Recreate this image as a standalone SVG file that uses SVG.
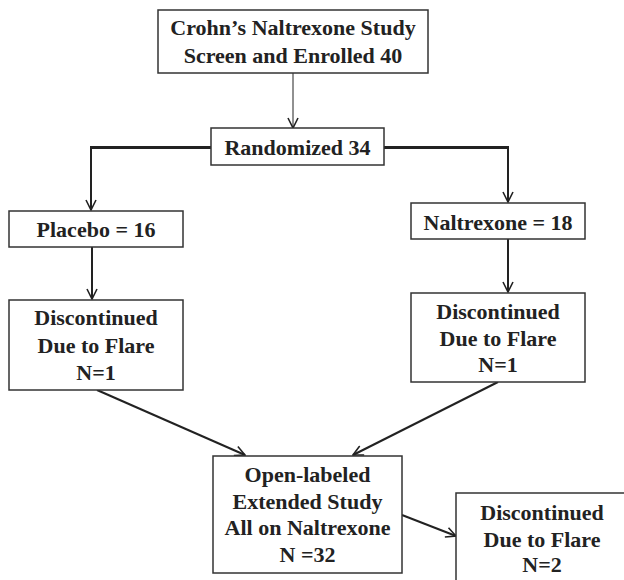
<svg xmlns="http://www.w3.org/2000/svg" width="624" height="580" viewBox="0 0 624 580">
<defs>
<style>
.box{fill:#fff;stroke:#333;stroke-width:1.5}
.t{font-family:"Liberation Serif","Times New Roman",serif;font-weight:bold;font-size:22px;fill:#222;text-anchor:middle}
.c{fill:none;stroke:#222}
</style>
<marker id="ah" viewBox="0 0 12 12" refX="11" refY="6" markerWidth="12" markerHeight="12" markerUnits="userSpaceOnUse" orient="auto">
<path d="M1,1 L11,6 L1,11" fill="none" stroke="#222" stroke-width="1.6"/>
</marker>
</defs>
<rect width="624" height="580" fill="#fff"/>
<g id="connectors">
<line class="c" x1="293" y1="73" x2="293" y2="128" stroke-width="1" marker-end="url(#ah)"/>
<polyline class="c" points="211,147.5 91,147.5" stroke-width="3"/>
<line class="c" x1="91" y1="146" x2="91" y2="210" stroke-width="2" marker-end="url(#ah)"/>
<polyline class="c" points="384,147.5 508,147.5" stroke-width="3"/>
<line class="c" x1="508" y1="146" x2="508" y2="202" stroke-width="2" marker-end="url(#ah)"/>
<line class="c" x1="92" y1="247" x2="92" y2="299" stroke-width="2" marker-end="url(#ah)"/>
<line class="c" x1="508" y1="239" x2="508" y2="292" stroke-width="2" marker-end="url(#ah)"/>
<line class="c" x1="97" y1="390" x2="245" y2="455" stroke-width="2" marker-end="url(#ah)"/>
<line class="c" x1="498" y1="382" x2="353" y2="455" stroke-width="2" marker-end="url(#ah)"/>
<line class="c" x1="402" y1="515" x2="456" y2="536" stroke-width="2" marker-end="url(#ah)"/>
</g>
<g id="n-screen">
<rect class="box" x="158" y="10" width="270" height="63"/>
<text class="t" x="293" y="35">Crohn’s Naltrexone Study</text>
<text class="t" x="293" y="63">Screen and Enrolled 40</text>
</g>
<g id="n-random">
<rect class="box" x="211" y="128" width="173" height="37"/>
<text class="t" x="297.5" y="155">Randomized 34</text>
</g>
<g id="n-placebo">
<rect class="box" x="9" y="211" width="174" height="36"/>
<text class="t" x="96" y="237">Placebo = 16</text>
</g>
<g id="n-naltrexone">
<rect class="box" x="411" y="203" width="174" height="36"/>
<text class="t" x="498" y="230">Naltrexone = 18</text>
</g>
<g id="n-disc-left">
<rect class="box" x="9" y="300" width="174" height="90"/>
<text class="t" x="96" y="325">Discontinued</text>
<text class="t" x="96" y="353">Due to Flare</text>
<text class="t" x="96" y="380">N=1</text>
</g>
<g id="n-disc-right">
<rect class="box" x="411" y="293" width="174" height="89"/>
<text class="t" x="498" y="319">Discontinued</text>
<text class="t" x="498" y="346">Due to Flare</text>
<text class="t" x="498" y="372">N=1</text>
</g>
<g id="n-open">
<rect class="box" x="213" y="456" width="189" height="117"/>
<text class="t" x="307.5" y="482">Open-labeled</text>
<text class="t" x="307.5" y="509">Extended Study</text>
<text class="t" x="307.5" y="535">All on Naltrexone</text>
<text class="t" x="307.5" y="562">N =32</text>
</g>
<g id="n-disc-final">
<rect class="box" x="456" y="493" width="190" height="100"/>
<text class="t" x="542" y="520">Discontinued</text>
<text class="t" x="542" y="547">Due to Flare</text>
<text class="t" x="542" y="572">N=2</text>
</g>
</svg>
